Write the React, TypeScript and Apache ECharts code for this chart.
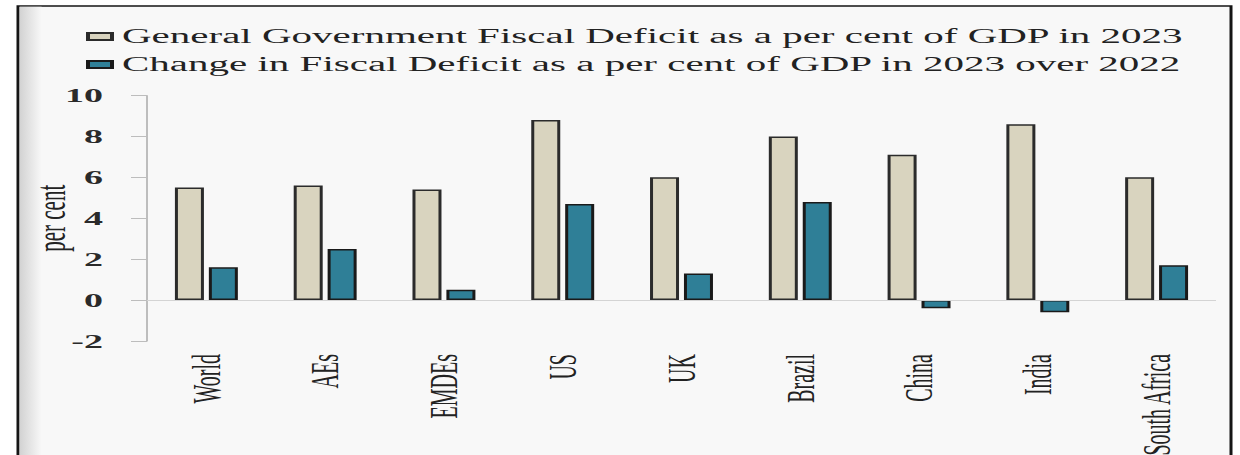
import React, { useEffect, useRef } from "react";
import * as echarts from "echarts";

const categories = ["World", "AEs", "EMDEs", "US", "UK", "Brazil", "China", "India", "South Africa"];
const deficit2023 = [5.5, 5.6, 5.4, 8.8, 6.0, 8.0, 7.1, 8.6, 6.0];
const change2023over2022 = [1.6, 2.5, 0.5, 4.7, 1.3, 4.8, -0.4, -0.6, 1.7];
const seriesNames = [
  "General Government Fiscal Deficit as a per cent of GDP in 2023",
  "Change in Fiscal Deficit as a per cent of GDP in 2023 over 2022",
];
const yTicks = { min: -2, max: 10, interval: 2 };

const SX = 2; // horizontal stretch of the original picture
const W = 1240 / SX;
const H = 455;
const SERIF = "'Liberation Serif', 'Times New Roman', serif";

export default function App() {
  const ref = useRef<HTMLDivElement>(null);
  useEffect(() => {
    if (!ref.current) return;
    const chart = echarts.init(ref.current, undefined, { renderer: "svg" });
    chart.setOption({
      animation: false,
      backgroundColor: "#ffffff",
      graphic: [
        {
          type: "rect",
          z: -10,
          shape: { x: 9, y: 6, width: 606.5, height: 470 },
          style: { fill: "#f8f8f8", stroke: "#151515", lineWidth: 1.5 },
        },
        {
          type: "rect",
          z: -9,
          shape: { x: 9.8, y: 6.8, width: 11, height: 460 },
          style: {
            fill: new echarts.graphic.LinearGradient(0, 0, 1, 0, [
              { offset: 0, color: "#d2d2d2" },
              { offset: 1, color: "#f8f8f8" },
            ]),
          },
        },
      ],
      legend: {
        orient: "vertical",
        left: 38,
        top: 21,
        icon: "rect",
        itemWidth: 12,
        itemHeight: 7,
        itemGap: 7,
        textStyle: { fontFamily: SERIF, fontSize: 20.5, color: "#222" },
        data: seriesNames,
      },
      grid: {
        left: 73.5,
        right: 12,
        top: 95.5,
        bottom: 114,
        containLabel: false,
        outerBoundsMode: "none",
      },
      xAxis: {
        type: "category",
        data: categories,
        axisLine: { show: false, onZero: false },
        axisTick: { show: false },
        axisLabel: {
          rotate: 90,
          margin: 13,
          fontFamily: SERIF,
          fontSize: 20,
          color: "#222",
        },
      },
      yAxis: {
        type: "value",
        min: yTicks.min,
        max: yTicks.max,
        interval: yTicks.interval,
        name: "per cent",
        nameLocation: "middle",
        nameGap: 38,
        nameRotate: 90,
        nameMoveOverlap: false,
        nameTextStyle: { fontFamily: SERIF, fontSize: 21, color: "#222" },
        axisLine: { show: true, lineStyle: { color: "#bdbdbd", width: 1 } },
        axisTick: { show: true, length: 8, lineStyle: { color: "#bdbdbd" } },
        splitLine: { show: false },
        axisLabel: { fontFamily: SERIF, fontSize: 19, fontWeight: "bold", color: "#2a2a2a", margin: 22 },
      },
      series: [
        {
          name: seriesNames[0],
          type: "bar",
          data: deficit2023,
          barWidth: 14.5,
          barGap: "17%",
          itemStyle: { color: "#d9d4bf", borderColor: "#2b2b2b", borderWidth: 1.5 },
        },
        {
          name: seriesNames[1],
          type: "bar",
          data: change2023over2022,
          barWidth: 14.5,
          itemStyle: { color: "#2f7f97", borderColor: "#1a1a1a", borderWidth: 1.5 },
          markLine: {
            silent: true,
            symbol: "none",
            label: { show: false },
            lineStyle: { color: "#d4d4d4", width: 1, type: "solid" },
            data: [{ yAxis: 0 }],
          },
        },
      ],
    });
    return () => chart.dispose();
  }, []);
  return (
    <div style={{ position: "absolute", left: 0, top: 0, width: 1240, height: H, overflow: "hidden", background: "#fff" }}>
      <div
        ref={ref}
        style={{ width: W, height: H, transform: `scale(${SX}, 1)`, transformOrigin: "0 0" }}
      />
    </div>
  );
}
